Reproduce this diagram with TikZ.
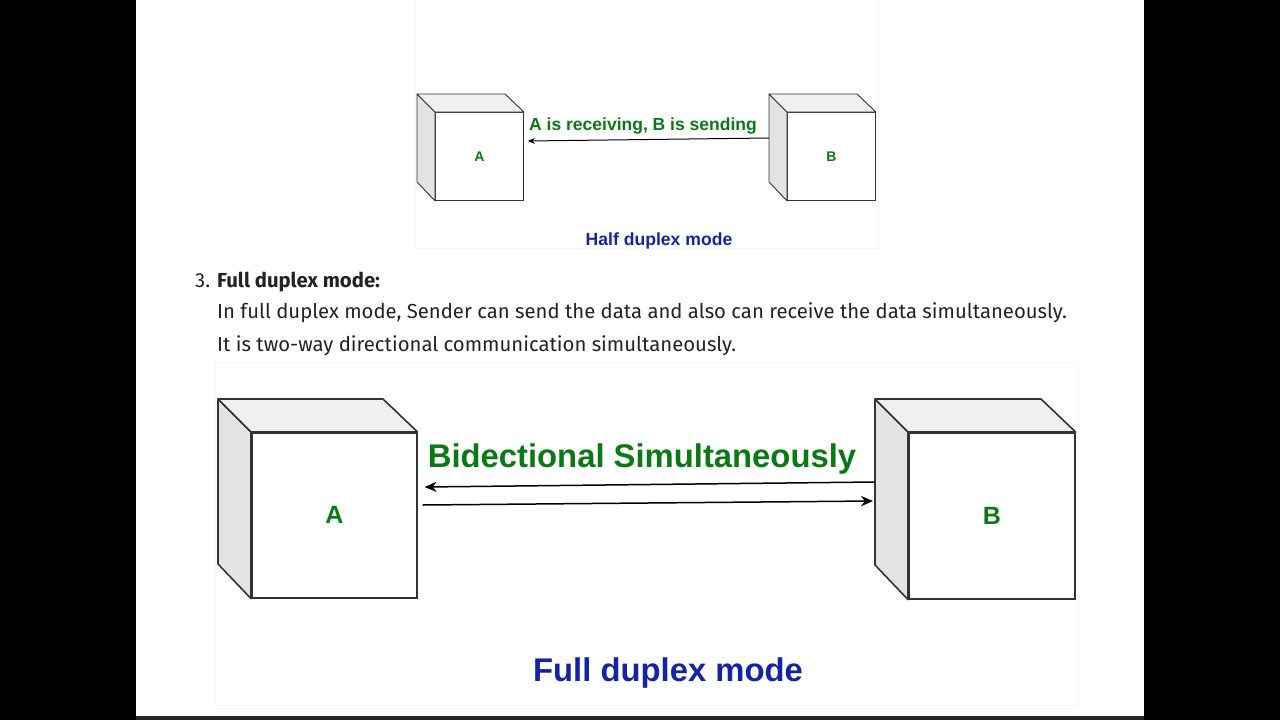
\documentclass[tikz,border=0pt]{standalone}
\usepackage{fontspec}
\setmainfont{Liberation Sans}
\newfontfamily\bodyfont{Fira Sans}
\usepackage{tikz}
\usetikzlibrary{arrows.meta,calc}
\definecolor{labgreen}{HTML}{0A7A14}
\definecolor{capblue}{HTML}{1424A8}
\definecolor{edgegray}{HTML}{333333}
\definecolor{textgray}{HTML}{232323}
\tikzset{
  front/.style={draw=edgegray, fill=white, line width=#1, inner sep=0pt, anchor=north west},
  sideface/.style={draw=edgegray, fill=black!11, line width=#1, line join=round},
  topface/.style={draw=edgegray, fill=black!6, line width=#1, line join=round},
  boxlbl/.style={text=labgreen, font=\bfseries\fontsize{#1}{#1}\selectfont},
  note/.style={text=labgreen, font=\bfseries\fontsize{17.5}{18}\selectfont},
  caption/.style={text=capblue, font=\bfseries\fontsize{#1}{#1}\selectfont},
  body/.style={text=textgray, anchor=base west, inner sep=0pt,
    font=\bodyfont\fontsize{20.3}{22}\selectfont},
  frame/.style={draw=black!4, line width=0.8pt},
  msg/.style={-{Stealth[length=#1, width=0.85*#1]}, draw=black, line width=1pt},
  bigmsg/.style={msg=#1, line width=1.5pt}
}
% cube: name, front top-left, size, depth, line width
\newcommand{\cube}[5]{%
  \node[front=#5, minimum size=#3pt] (#1) at (#2) {};
  \coordinate (#1-side) at ($(#1.north west)+(-#4,-#4)$);
  \draw[sideface=#5] (#1.north west) -- (#1-side) -- ++(0,#3) -- (#1.south west) -- cycle;
  \draw[topface=#5] (#1.north west) -- (#1-side) -- ++(#3,0) -- (#1.north east) -- cycle;
}

\begin{document}
\begin{tikzpicture}[x=1pt, y=-1pt]
  \useasboundingbox (0,0) rectangle (1280,720);
  \fill[black] (0,0) rectangle (1280,720);
  \fill[white] (136,0) rectangle (1144,716);
  \fill[black!85] (136,716) rectangle (1144,720);

  % half duplex
  \draw[frame] (415,-2) rectangle (878,248);
  \cube{Ah}{435,112}{88}{18}{0.9pt}
  \cube{Bh}{787,112}{88}{18}{0.9pt}
  \node[boxlbl=14] at (Ah.center) {A};
  \node[boxlbl=14] at (Bh.center) {B};
  \draw[msg=7pt] (Bh-side |- 0,138) -- ($(Ah.east |- 0,141)+(4,0)$);
  \node[note] (halfmsg) at (643,126) {A is receiving, B is sending};
  \node[caption=17.6] (halfcap) at (659,241) {Half duplex mode};

  % text
  \node[body] (num) at (195,287) {3.};
  \node[body, font=\bodyfont\bfseries\fontsize{20.3}{22}\selectfont] (head) at (217,287) {Full duplex mode:};
  \node[body] (line1) at (217,318) {In full duplex mode, Sender can send the data and also can receive the data simultaneously.};
  \node[body] (line2) at (217,351) {It is two-way directional communication simultaneously.};

  % full duplex
  \draw[frame] (215,362) rectangle (1078,705);
  \cube{Af}{251,432}{165}{33}{1.6pt}
  \cube{Bf}{908,432}{166}{33}{1.6pt}
  \node[boxlbl=25] at (Af.center) {A};
  \node[boxlbl=25] at (Bf.center) {B};
  \draw[bigmsg=12pt] (Bf-side |- 0,482) -- ($(Af.east |- 0,487)+(7,0)$);
  \draw[bigmsg=12pt] ($(Af.east |- 0,505)+(5,0)$) -- ($(Bf-side |- 0,501)+(-2,0)$);
  \node[note, font=\bfseries\fontsize{32.8}{33}\selectfont] (fullmsg) at (642,459) {Bidectional Simultaneously};
  \node[caption=32.8] (fullcap) at (668,673) {Full duplex mode};
\end{tikzpicture}
\end{document}
